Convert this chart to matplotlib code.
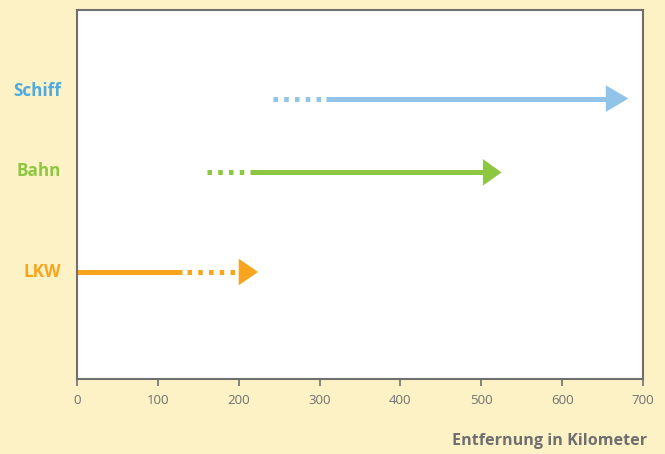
import matplotlib.pyplot as plt
from matplotlib.patches import Polygon

# data (km)
modes = ['Schiff', 'Bahn', 'LKW']
y_pos = [7.6, 5.6, 2.9]
label_y = [7.8, 5.65, 2.9]
dotted_start = [242, 161, 136]
dotted_end = [303, 208, 196]
solid_start = [308, 214, 0]
solid_end = [654, 502, 130]
head_base = [654, 502, 200]
tip = [682, 525, 224]

line_colors = ['#92c3e8', '#8dc63f', '#f8a51d']
label_colors = ['#4fabdf', '#8dc63f', '#f8a51d']
bg = '#fdf1c6'
grey = '#6f6f6f'

plt.rcParams['font.family'] = ['Open Sans', 'DejaVu Sans']

fig = plt.figure(figsize=(6.65, 4.54), dpi=100, facecolor=bg)
ax = fig.add_axes([77 / 665, 1 - 379 / 454, 566 / 665, 369 / 454])
ax.set_facecolor('white')

lw = 3.6
for i in range(len(modes)):
    y = y_pos[i]
    c = line_colors[i]
    ax.plot([solid_start[i], solid_end[i]], [y, y], color=c, lw=lw,
            solid_capstyle='butt')
    ax.plot([dotted_start[i], dotted_end[i]], [y, y], color=c, lw=lw,
            dashes=(0.9, 1.25), dash_capstyle='butt')
    head = Polygon([[head_base[i], y - 0.36], [tip[i], y], [head_base[i], y + 0.36]],
                   closed=True, facecolor=c, edgecolor='none')
    ax.add_patch(head)
    ax.text(-16 / 0.8086, label_y[i], modes[i], color=label_colors[i],
            fontsize=12.3, fontweight='bold', ha='right', va='center', clip_on=False)

ax.set_xlim(0, 700)
ax.set_ylim(0, 10)
ax.set_xticks(range(0, 701, 100))
ax.set_yticks([])
for s in ax.spines.values():
    s.set_color(grey)
    s.set_linewidth(1.5)
ax.tick_params(axis='x', length=5, width=1.2, color=grey, labelcolor=grey,
               labelsize=9.5, pad=6)

fig.text(647 / 665, 1 - 441 / 454, 'Entfernung in Kilometer', color=grey,
         fontsize=11.6, fontweight='bold', ha='right', va='center')

fig.savefig('out.png', dpi=100, facecolor=bg)
